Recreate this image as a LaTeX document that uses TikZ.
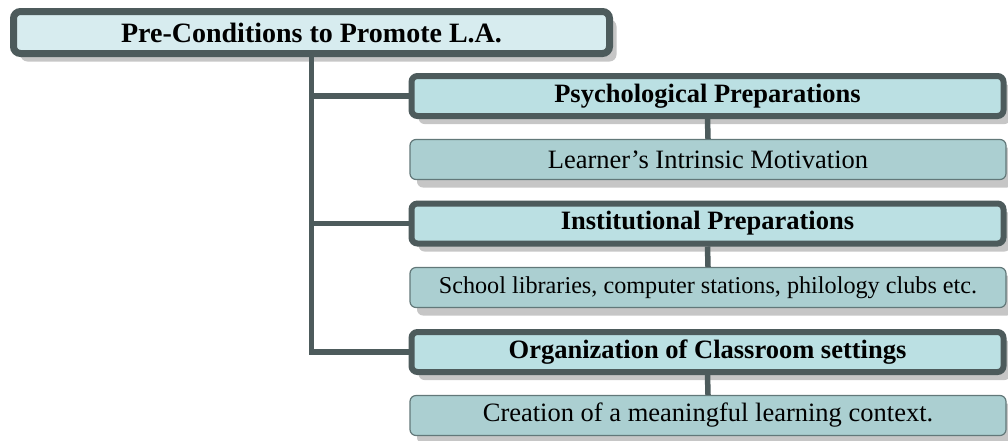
\documentclass[tikz,border=0pt]{standalone}
\usepackage{fontspec}
\setmainfont{Liberation Serif}
\usetikzlibrary{shadows}
\definecolor{edge}{HTML}{4D5B5C}
\definecolor{topfill}{HTML}{D7ECEF}
\definecolor{headfill}{HTML}{BBE0E3}
\definecolor{subfill}{HTML}{ABCFD1}
\definecolor{subedge}{HTML}{627879}
\definecolor{shade}{HTML}{C6C6C6}
\newcommand{\fsz}[1]{\fontsize{#1}{#1}\selectfont}
\begin{document}
\begin{tikzpicture}[x=1pt,y=-1pt,
  boxshadow/.style={drop shadow={shadow xshift=7pt,shadow yshift=-8pt,fill=shade,opacity=1}},
  rootbox/.style={draw=edge,line width=7pt,fill=topfill,rounded corners=7pt,
    minimum width=596pt,minimum height=42pt,inner sep=0pt,boxshadow},
  headbox/.style={draw=edge,line width=6pt,fill=headfill,rounded corners=6pt,
    minimum width=592pt,minimum height=40pt,inner sep=0pt,boxshadow,font=\bfseries\fsz{26.5}},
  subbox/.style={draw=subedge,line width=1.2pt,fill=subfill,rounded corners=6pt,
    minimum width=596pt,minimum height=40pt,inner sep=0pt,boxshadow,font=\fsz{26.5}},
  link/.style={draw=edge,line width=5.5pt}]
\useasboundingbox (0,0) rectangle (1008,440);

% root of the tree
\node[rootbox,font=\bfseries\fsz{28}] (root) at (311.5,32.5) {Pre-Conditions to Promote L.A.};

% three preparation branches, each with its detail box
\node[headbox] (psy) at (707.5,96) {Psychological Preparations};
\node[subbox] (psyd) at (708,159.5) {Learner’s Intrinsic Motivation};

\node[headbox] (ins) at (707.5,223.5) {Institutional Preparations};
\node[subbox,font=\fsz{24.2}] (insd) at (708,287.5) {School libraries, computer stations, philology clubs etc.};

\node[headbox] (org) at (707.5,352) {Organization of Classroom settings};
\node[subbox] (orgd) at (708,415.5) {Creation of a meaningful learning context.};

% connectors
\draw[link] (root.south) |- (psy.west);
\draw[link] (root.south) |- (ins.west);
\draw[link] (root.south) |- (org.west);
\draw[link] (psy.south) -- (psyd.north);
\draw[link] (ins.south) -- (insd.north);
\draw[link] (org.south) -- (orgd.north);
\end{tikzpicture}
\end{document}
